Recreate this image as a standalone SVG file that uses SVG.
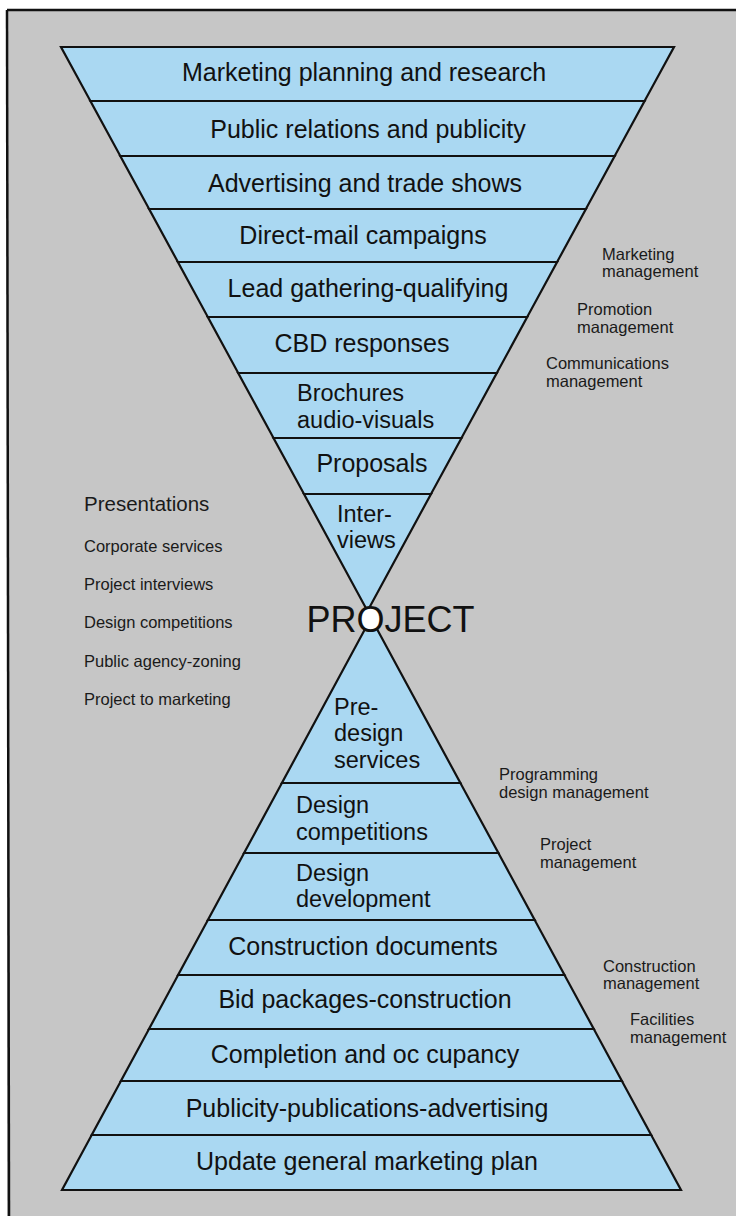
<svg xmlns="http://www.w3.org/2000/svg" width="736" height="1216" viewBox="0 0 736 1216">
<style>
.band{fill:#aad8f2;stroke:#111;stroke-width:2.2;stroke-linejoin:miter}
.lbl{font-family:"Liberation Sans",Arial,sans-serif;font-size:25px;fill:#111}
.ml{font-family:"Liberation Sans",Arial,sans-serif;font-size:23.5px;fill:#111}
.mid{text-anchor:middle}
.sm{font-family:"Liberation Sans",Arial,sans-serif;font-size:16.5px;fill:#1a1a1a}
.pres{font-family:"Liberation Sans",Arial,sans-serif;font-size:20.5px;fill:#1a1a1a}
.proj{font-family:"Liberation Sans",Arial,sans-serif;font-size:36px;fill:#111}
</style>
<rect x="0" y="0" width="736" height="1216" fill="#ffffff"/>
<rect x="7" y="10" width="729" height="1206" fill="#c6c6c6"/>
<g id="frame" stroke="#111" stroke-width="2.5" fill="none">
<line x1="7" y1="10" x2="736" y2="10"/>
<line x1="7" y1="10" x2="9" y2="1216"/>
</g>

<g id="marketing-planning"><polygon class="band" points="61,47 674,47 644.6,101 90.4,101"/><text class="lbl mid" x="364" y="81">Marketing planning and research</text></g>
<g id="public-relations"><polygon class="band" points="90.4,101 644.6,101 614.7,156 120.3,156"/><text class="lbl mid" x="368" y="138">Public relations and publicity</text></g>
<g id="advertising"><polygon class="band" points="120.3,156 614.7,156 585.9,209 149.1,209"/><text class="lbl mid" x="365" y="192">Advertising and trade shows</text></g>
<g id="direct-mail"><polygon class="band" points="149.1,209 585.9,209 557.1,262 177.9,262"/><text class="lbl mid" x="363" y="244">Direct-mail campaigns</text></g>
<g id="lead-gathering"><polygon class="band" points="177.9,262 557.1,262 527.2,317 207.8,317"/><text class="lbl mid" x="368" y="297">Lead gathering-qualifying</text></g>
<g id="cbd-responses"><polygon class="band" points="207.8,317 527.2,317 496.8,373 238.2,373"/><text class="lbl mid" x="362" y="352">CBD responses</text></g>
<g id="brochures"><polygon class="band" points="238.2,373 496.8,373 461.5,438 273.5,438"/><text class="ml" x="297" y="401">Brochures<tspan x="297" y="427.5">audio-visuals</tspan></text></g>
<g id="proposals"><polygon class="band" points="273.5,438 461.5,438 431,494 304,494"/><text class="lbl mid" x="372" y="472">Proposals</text></g>
<g id="interviews"><polygon class="band" points="304,494 431,494 367.5,611"/><text class="ml" x="337" y="521.5">Inter-<tspan x="337" y="548">views</tspan></text></g>

<g id="pre-design"><polygon class="band" points="371,618 460.4,783 281.9,783"/><text class="ml" x="334" y="714.5">Pre-<tspan x="334" y="741">design</tspan><tspan x="334" y="767.5">services</tspan></text></g>
<g id="design-competitions"><polygon class="band" points="281.9,783 460.4,783 498.4,853 244.1,853"/><text class="ml" x="296" y="813">Design<tspan x="296" y="839.5">competitions</tspan></text></g>
<g id="design-development"><polygon class="band" points="244.1,853 498.4,853 534.7,920 207.9,920"/><text class="ml" x="296" y="880.5">Design<tspan x="296" y="907">development</tspan></text></g>
<g id="construction-documents"><polygon class="band" points="207.9,920 534.7,920 564.5,975 178.1,975"/><text class="lbl mid" x="363" y="955">Construction documents</text></g>
<g id="bid-packages"><polygon class="band" points="178.1,975 564.5,975 593.8,1029 149,1029"/><text class="lbl mid" x="365" y="1008">Bid packages-construction</text></g>
<g id="completion"><polygon class="band" points="149,1029 593.8,1029 621.9,1081 120.9,1081"/><text class="lbl mid" x="365" y="1063">Completion and oc cupancy</text></g>
<g id="publicity"><polygon class="band" points="120.9,1081 621.9,1081 651.2,1135 91.7,1135"/><text class="lbl mid" x="367" y="1117">Publicity-publications-advertising</text></g>
<g id="update-plan"><polygon class="band" points="91.7,1135 651.2,1135 681,1190 62,1190"/><text class="lbl mid" x="367" y="1170">Update general marketing plan</text></g>

<g id="project">
<ellipse cx="370.5" cy="619.5" rx="10.5" ry="12" fill="#ffffff"/>
<text class="proj" x="306.5" y="632">PROJECT</text>
</g>

<g id="management-labels">
<text class="sm" x="602" y="260">Marketing<tspan x="602" y="277">management</tspan></text>
<text class="sm" x="577" y="315">Promotion<tspan x="577" y="333">management</tspan></text>
<text class="sm" x="546" y="369">Communications<tspan x="546" y="387">management</tspan></text>
<text class="sm" x="499" y="780">Programming<tspan x="499" y="798">design management</tspan></text>
<text class="sm" x="540" y="850">Project<tspan x="540" y="868">management</tspan></text>
<text class="sm" x="603" y="972">Construction<tspan x="603" y="989">management</tspan></text>
<text class="sm" x="630" y="1025">Facilities<tspan x="630" y="1043">management</tspan></text>
</g>

<g id="presentations">
<text class="pres" x="84" y="511">Presentations</text>
<text class="sm" x="84" y="552">Corporate services</text>
<text class="sm" x="84" y="590">Project interviews</text>
<text class="sm" x="84" y="628">Design competitions</text>
<text class="sm" x="84" y="667">Public agency-zoning</text>
<text class="sm" x="84" y="705">Project to marketing</text>
</g>
<g id="connectors"/>
</svg>
